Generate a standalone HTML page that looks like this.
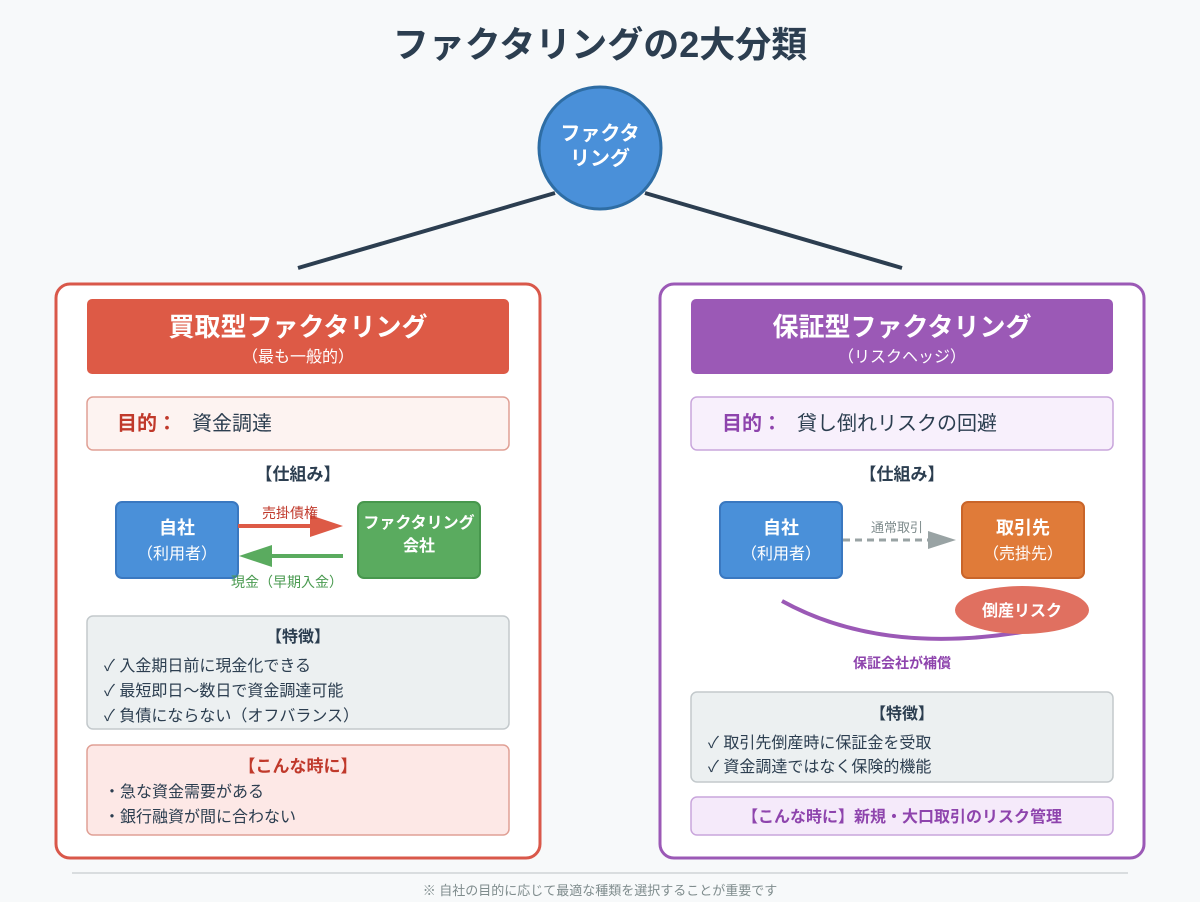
<!DOCTYPE html>
<html><head><meta charset="utf-8"><style>
html,body{margin:0;padding:0;background:#f7f9fa;}
svg{display:block;font-family:"Liberation Sans","Noto Sans CJK JP",sans-serif;}
</style></head><body>
<svg width="1200" height="902" viewBox="0 0 1200 902" xmlns="http://www.w3.org/2000/svg">
<rect width="1200" height="902" fill="#f7f9fa"/>
<text x="600" y="57" text-anchor="middle" font-size="36" font-weight="bold" fill="#2c3e50">ファクタリングの2大分類</text>

<line x1="555" y1="193" x2="298" y2="268" stroke="#2c3e50" stroke-width="4"/>
<line x1="645" y1="193" x2="902" y2="268" stroke="#2c3e50" stroke-width="4"/>
<circle cx="600" cy="148" r="61" fill="#4a90d9" stroke="#2e6da4" stroke-width="3"/>
<text x="600" y="140" text-anchor="middle" font-size="20" font-weight="bold" fill="#fff">ファクタ</text>
<text x="600" y="165" text-anchor="middle" font-size="20" font-weight="bold" fill="#fff">リング</text>

<!-- LEFT -->
<rect x="56" y="284" width="484" height="574" rx="14" fill="#fff" stroke="#d9584a" stroke-width="3"/>
<rect x="87" y="299" width="422" height="75" rx="5" fill="#dd5a46"/>
<text x="298" y="336" text-anchor="middle" font-size="26" font-weight="bold" fill="#fff">買取型ファクタリング</text>
<text x="298" y="362" text-anchor="middle" font-size="16" fill="#fff">（最も一般的）</text>
<rect x="87" y="397" width="422" height="53" rx="6" fill="#fdf3f1" stroke="#e0a095" stroke-width="1.5"/>
<text x="117" y="430" font-size="20" font-weight="bold" fill="#c0392b">目的：</text>
<text x="192" y="430" font-size="20" fill="#2c3e50">資金調達</text>
<text x="298" y="480" text-anchor="middle" font-size="17" font-weight="bold" fill="#2c3e50">【仕組み】</text>
<rect x="116" y="502" width="122" height="76" rx="6" fill="#4a90d9" stroke="#3a78c0" stroke-width="2"/>
<text x="177" y="534" text-anchor="middle" font-size="18" font-weight="bold" fill="#fff">自社</text>
<text x="177" y="559" text-anchor="middle" font-size="16" fill="#fff">（利用者）</text>
<rect x="358" y="502" width="122" height="76" rx="6" fill="#5aab5f" stroke="#47974d" stroke-width="2"/>
<text x="419" y="528" text-anchor="middle" font-size="16" font-weight="bold" fill="#fff">ファクタリング</text>
<text x="419" y="551" text-anchor="middle" font-size="16" font-weight="bold" fill="#fff">会社</text>
<line x1="238" y1="526" x2="315" y2="526" stroke="#dd5a46" stroke-width="4"/>
<polygon points="310,515 343,526 310,537" fill="#dd5a46"/>
<text x="290" y="518" text-anchor="middle" font-size="14" fill="#c0392b">売掛債権</text>
<line x1="343" y1="556" x2="268" y2="556" stroke="#5aab5f" stroke-width="4"/>
<polygon points="272,545 239,556 272,567" fill="#5aab5f"/>
<text x="287" y="587" text-anchor="middle" font-size="14" fill="#4a9a50">現金（早期入金）</text>
<rect x="87" y="616" width="422" height="113" rx="6" fill="#ecf0f1" stroke="#c3c9cc" stroke-width="1.5"/>
<text x="298" y="642" text-anchor="middle" font-size="16" font-weight="bold" fill="#2c3e50">【特徴】</text>
<text x="104" y="671" font-size="16" fill="#2c3e50">✓ 入金期日前に現金化できる</text>
<text x="104" y="696" font-size="16" fill="#2c3e50">✓ 最短即日〜数日で資金調達可能</text>
<text x="104" y="721" font-size="16" fill="#2c3e50">✓ 負債にならない（オフバランス）</text>
<rect x="87" y="745" width="422" height="90" rx="6" fill="#fde8e6" stroke="#e0a095" stroke-width="1.5"/>
<text x="298" y="772" text-anchor="middle" font-size="17" font-weight="bold" fill="#c0392b">【こんな時に】</text>
<text x="104" y="797" font-size="16" fill="#2c3e50">・急な資金需要がある</text>
<text x="104" y="822" font-size="16" fill="#2c3e50">・銀行融資が間に合わない</text>

<!-- RIGHT -->
<rect x="660" y="284" width="484" height="574" rx="14" fill="#fff" stroke="#9b59b6" stroke-width="3"/>
<rect x="691" y="299" width="422" height="75" rx="5" fill="#9b59b6"/>
<text x="902" y="336" text-anchor="middle" font-size="26" font-weight="bold" fill="#fff">保証型ファクタリング</text>
<text x="902" y="362" text-anchor="middle" font-size="16" fill="#fff">（リスクヘッジ）</text>
<rect x="691" y="397" width="422" height="53" rx="6" fill="#f8f0fc" stroke="#c9a6dc" stroke-width="1.5"/>
<text x="722" y="430" font-size="20" font-weight="bold" fill="#8e44ad">目的：</text>
<text x="797" y="430" font-size="20" fill="#2c3e50">貸し倒れリスクの回避</text>
<text x="902" y="480" text-anchor="middle" font-size="17" font-weight="bold" fill="#2c3e50">【仕組み】</text>
<rect x="720" y="502" width="122" height="76" rx="6" fill="#4a90d9" stroke="#3a78c0" stroke-width="2"/>
<text x="781" y="534" text-anchor="middle" font-size="18" font-weight="bold" fill="#fff">自社</text>
<text x="781" y="559" text-anchor="middle" font-size="16" fill="#fff">（利用者）</text>
<rect x="962" y="502" width="122" height="76" rx="6" fill="#e07b39" stroke="#c9652a" stroke-width="2"/>
<text x="1023" y="534" text-anchor="middle" font-size="18" font-weight="bold" fill="#fff">取引先</text>
<text x="1023" y="559" text-anchor="middle" font-size="16" fill="#fff">（売掛先）</text>
<line x1="843" y1="540" x2="930" y2="540" stroke="#99a3a4" stroke-width="3" stroke-dasharray="7,5"/>
<polygon points="928,531 956,540 928,549" fill="#99a3a4"/>
<text x="897" y="532" text-anchor="middle" font-size="13" fill="#7f8c8d">通常取引</text>
<path d="M782,601 Q880,655 1022,632" fill="none" stroke="#9b59b6" stroke-width="4"/>
<ellipse cx="1022" cy="610" rx="67" ry="24" fill="#e07060"/>
<text x="1022" y="616" text-anchor="middle" font-size="16" font-weight="bold" fill="#fff">倒産リスク</text>
<text x="902" y="668" text-anchor="middle" font-size="14" font-weight="bold" fill="#8e44ad">保証会社が補償</text>
<rect x="691" y="692" width="422" height="90" rx="6" fill="#ecf0f1" stroke="#c3c9cc" stroke-width="1.5"/>
<text x="902" y="719" text-anchor="middle" font-size="16" font-weight="bold" fill="#2c3e50">【特徴】</text>
<text x="708" y="748" font-size="16" fill="#2c3e50">✓ 取引先倒産時に保証金を受取</text>
<text x="708" y="772" font-size="16" fill="#2c3e50">✓ 資金調達ではなく保険的機能</text>
<rect x="691" y="797" width="422" height="38" rx="6" fill="#f5eafa" stroke="#c9a6dc" stroke-width="1.5"/>
<text x="902" y="822" text-anchor="middle" font-size="16" font-weight="bold" fill="#8e44ad">【こんな時に】新規・大口取引のリスク管理</text>

<line x1="72" y1="873" x2="1128" y2="873" stroke="#cfd4d6" stroke-width="1.5"/>
<text x="600" y="895" text-anchor="middle" font-size="13" fill="#7f8c8d">※ 自社の目的に応じて最適な種類を選択することが重要です</text>
</svg>
</body></html>
